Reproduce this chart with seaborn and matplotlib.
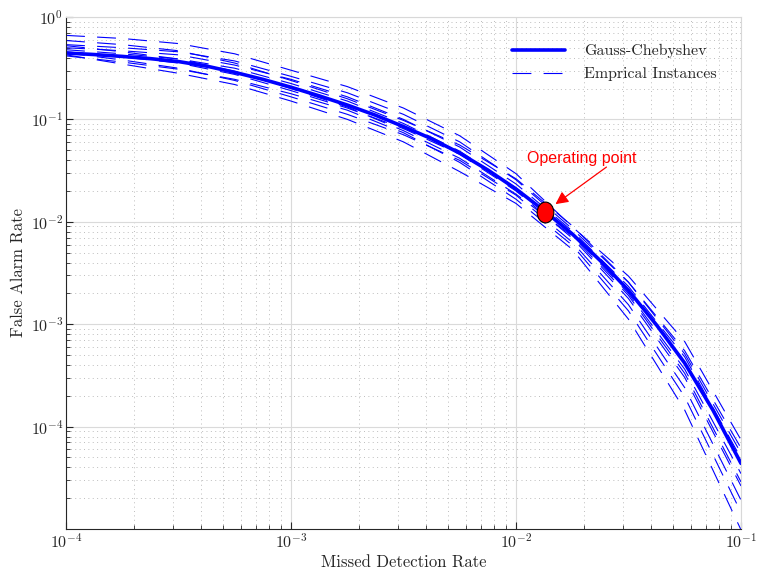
import numpy as np
import pandas as pd
import matplotlib
matplotlib.use("Agg")
import matplotlib.pyplot as plt
from matplotlib.lines import Line2D
from matplotlib.path import Path
from matplotlib.transforms import Affine2D
import seaborn as sns

# ---------- data ----------
# Gauss-Chebyshev curve, 1/8 decade steps
miss_rate_fine = [1.0e-4, 1.33e-4, 1.78e-4, 2.37e-4, 3.16e-4, 4.22e-4, 5.62e-4, 7.50e-4,
                  1.0e-3, 1.33e-3, 1.78e-3, 2.37e-3, 3.16e-3, 4.22e-3, 5.62e-3, 7.50e-3,
                  1.0e-2, 1.33e-2, 1.78e-2, 2.37e-2, 3.16e-2, 4.22e-2, 5.62e-2, 7.50e-2,
                  1.0e-1]
gauss_cheb = [0.445, 0.430, 0.412, 0.392, 0.367, 0.331, 0.288, 0.246,
              0.206, 0.170, 0.138, 0.110, 0.0851, 0.0646, 0.0468, 0.0320,
              0.0209, 0.0129, 0.00759, 0.00417, 0.00214, 9.77e-4, 4.17e-4, 1.45e-4,
              4.37e-5]

# empirical instances, 1/4 decade steps
miss_rate = [1.0e-4, 1.78e-4, 3.16e-4, 5.62e-4, 1.0e-3, 1.78e-3, 3.16e-3,
             5.62e-3, 1.0e-2, 1.78e-2, 3.16e-2, 5.62e-2, 1.0e-1]

emp_a = [0.661, 0.617, 0.550, 0.437, 0.302, 0.209, 0.129, 0.0692, 0.0295, 0.00891, 0.00295, 6.76e-4, 7.41e-5]
emp_b = [0.537, 0.501, 0.457, 0.372, 0.263, 0.182, 0.112, 0.0603, 0.0257, 0.00851, 0.00257, 5.50e-4, 6.17e-5]
emp_c = [0.501, 0.468, 0.427, 0.339, 0.246, 0.166, 0.100, 0.0537, 0.0234, 0.00813, 0.00234, 4.79e-4, 4.90e-5]
emp_d = [0.479, 0.437, 0.389, 0.316, 0.224, 0.151, 0.0912, 0.0490, 0.0214, 0.00759, 0.00200, 3.63e-4, 3.47e-5]
emp_e = [0.457, 0.407, 0.355, 0.275, 0.191, 0.129, 0.0813, 0.0457, 0.0200, 0.00692, 0.00178, 3.02e-4, 2.63e-5]
emp_f = [0.447, 0.380, 0.316, 0.240, 0.166, 0.112, 0.0708, 0.0398, 0.0182, 0.00631, 0.00155, 2.40e-4, 1.91e-5]
emp_g = [0.427, 0.347, 0.282, 0.219, 0.151, 0.100, 0.0603, 0.0309, 0.0151, 0.00537, 0.00112, 1.45e-4, 9.8e-6]
emp_h = [0.417, 0.363, 0.309, 0.246, 0.178, 0.123, 0.0741, 0.0380, 0.0166, 0.00589, 0.00135, 1.95e-4, 1.45e-5]
emp_i = [0.589, 0.537, 0.468, 0.355, 0.240, 0.159, 0.0977, 0.0562, 0.0263, 0.00912, 0.00257, 5.13e-4, 5.50e-5]
emp_j = [0.525, 0.457, 0.389, 0.295, 0.200, 0.132, 0.0776, 0.0417, 0.0186, 0.00724, 0.00191, 3.31e-4, 2.88e-5]

empirical = [emp_a, emp_b, emp_c, emp_d, emp_e, emp_f, emp_g, emp_h, emp_i, emp_j]

op_x = [0.0135]
op_y = [0.0126]

y_ticks = [1e-4, 1e-3, 1e-2, 1e-1, 1e0]

# ---------- style ----------
sns.set_style("ticks")
plt.rcParams['font.family'] = ['cmr10', 'DejaVu Serif']
plt.rcParams['mathtext.fontset'] = 'cm'
plt.rcParams['axes.formatter.use_mathtext'] = True

fig = plt.figure(figsize=(7.59, 5.72), dpi=100)
ax = fig.add_axes([0.087, 0.0752, 0.8893, 0.8951])

# empirical instances (long format)
rows = []
for k, ys in enumerate(empirical):
    for xv, yv in zip(miss_rate, ys):
        rows.append({'inst': k, 'md': xv, 'fa': yv})
df_emp = pd.DataFrame(rows)
df_main = pd.DataFrame({'md': miss_rate_fine, 'fa': gauss_cheb})

sns.lineplot(data=df_emp, x='md', y='fa', units='inst', estimator=None,
             color='#0000ff', lw=0.8, ax=ax, legend=False)
for ln in ax.lines:
    ln.set_dashes((17, 11))
sns.lineplot(data=df_main, x='md', y='fa', color='#0000ff', lw=2.6, ax=ax,
             legend=False)

# operating point (slightly tall ellipse)
ell = Path.unit_circle().transformed(Affine2D().scale(0.8, 1.0))
ax.plot(op_x, op_y, marker=ell, ms=15, color='#ff0000', mec='black',
        mew=0.8, ls='none', zorder=5)

ax.annotate('', xy=(op_x[0], op_y[0]), xytext=(44, 32), textcoords='offset points',
            xycoords='data',
            arrowprops=dict(arrowstyle='-|>', color='#ff0000', lw=0.9,
                            mutation_scale=19, shrinkA=0, shrinkB=9))
ax.annotate('Operating point', xy=(op_x[0], op_y[0]), xytext=(26, 38),
            textcoords='offset points', ha='center', va='center',
            color='#ff0000', fontsize=11.5, family=['Liberation Sans', 'DejaVu Sans'])

ax.set_xscale('log')
ax.set_yscale('log')
ax.set_xlim(1e-4, 1e-1)
ax.set_ylim(1e-5, 1e0)
ax.set_yticks(y_ticks)

ax.grid(True, which='major', color='#dadada', lw=0.8, ls='-')
ax.grid(True, which='minor', color='#bdbdbd', lw=0.7, ls=(0, (1, 3.5)))
ax.set_axisbelow(True)

for side in ['top', 'right']:
    ax.spines[side].set_color('#d8d8d8')
for side in ['left', 'bottom']:
    ax.spines[side].set_color('#262626')
    ax.spines[side].set_linewidth(0.8)
ax.tick_params(which='both', direction='in', colors='#262626', labelsize=11.5,
               top=False, right=False)
ax.tick_params(which='major', length=5, pad=2)
ax.tick_params(which='minor', length=3)

ax.set_xlabel('Missed Detection Rate', fontsize=12, color='#262626', labelpad=3)
ax.set_ylabel('False Alarm Rate', fontsize=12, color='#262626', labelpad=3)

handles = [Line2D([], [], color='#0000ff', lw=2.6),
           Line2D([], [], color='#0000ff', lw=0.8, dashes=(17, 11))]
ax.legend(handles, ['Gauss-Chebyshev', 'Emprical Instances'], loc='upper right',
          bbox_to_anchor=(0.985, 0.975), frameon=False, fontsize=11.5,
          handlelength=3.3, handletextpad=1.2, labelspacing=0.55)

fig.savefig('out.png', dpi=100)
